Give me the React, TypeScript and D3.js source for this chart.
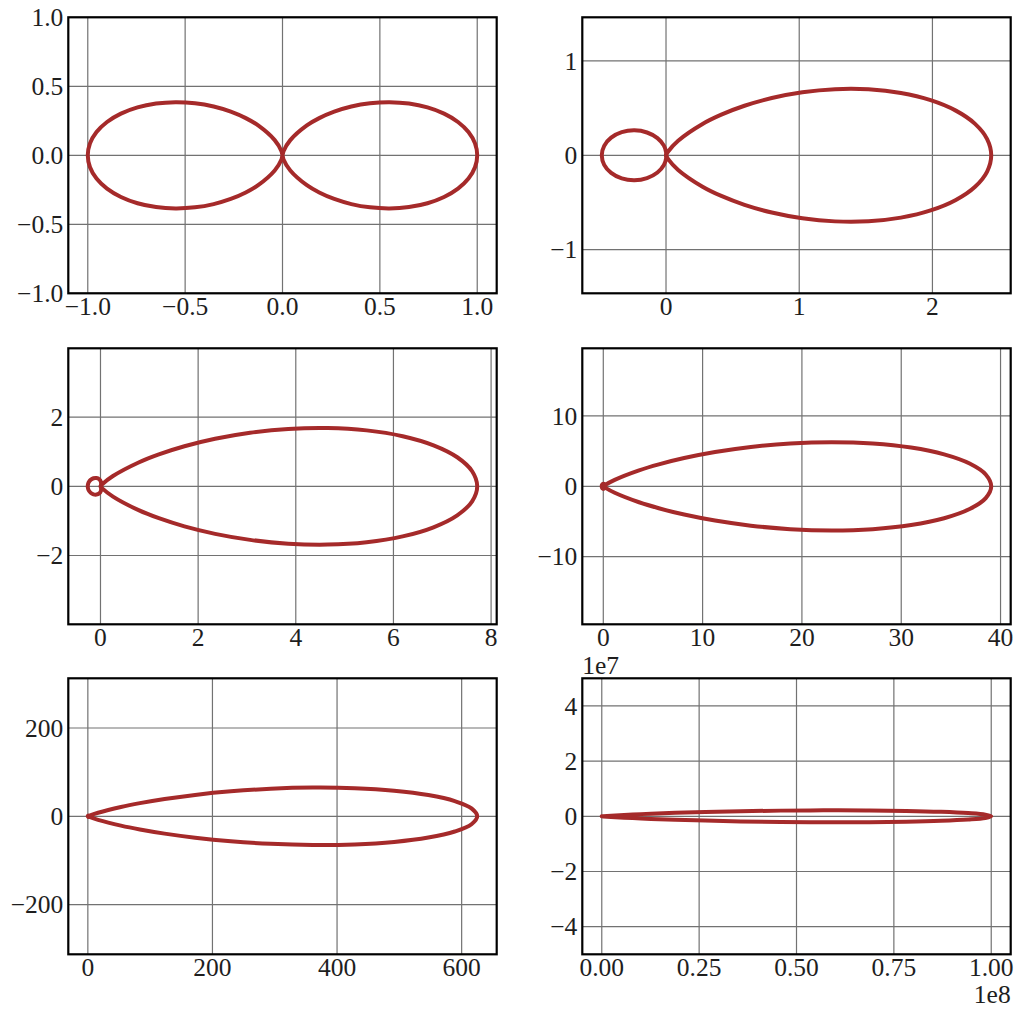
import React from "react";
import * as d3 from "d3";

type Pt = [number, number];

// Upper halves (y >= 0) of each closed curve.
const curveA: Pt[] = [
  [1, 0], [0.98863, 0.08649], [0.95512, 0.16841], [0.90122, 0.24148], [0.82977, 0.30201],
  [0.74444, 0.34714], [0.64952, 0.375], [0.54966, 0.38488], [0.44953, 0.3772], [0.35355, 0.35355],
  [0.26559, 0.31651], [0.1887, 0.26949], [0.125, 0.21651], [0.04001, 0.10993], [0.00524, 0.0297],
  [0, 0],
  [-0.00524, 0.0297], [-0.04001, 0.10993], [-0.125, 0.21651], [-0.1887, 0.26949], [-0.26559, 0.31651],
  [-0.35355, 0.35355], [-0.44953, 0.3772], [-0.54966, 0.38488], [-0.64952, 0.375], [-0.74444, 0.34714],
  [-0.82977, 0.30201], [-0.90122, 0.24148], [-0.95512, 0.16841], [-0.98863, 0.08649], [-1, 0],
];
const curveB: Pt[] = [
  [2.44139, 0], [2.41058, 0.17209], [2.3201, 0.33317], [2.17569, 0.47322], [1.98631, 0.58405],
  [1.76352, 0.66008], [1.52008, 0.69857], [1.26926, 0.69991], [1.02361, 0.66734], [0.79411, 0.60652],
  [0.58931, 0.52482], [0.41504, 0.43062], [0.27424, 0.33243], [0.09104, 0.15465], [0.0147, 0.03795],
  [0, 0],
  [0.00084, 0.03081], [-0.01581, 0.10253], [-0.06437, 0.18208], [-0.14255, 0.24164],
  [-0.23746, 0.26422], [-0.3324, 0.2445], [-0.41182, 0.18657], [-0.46408, 0.10061], [-0.48225, 0],
];
const curveC: Pt[] = [
  [7.71607, 0], [7.61176, 0.43549], [7.3063, 0.83969], [6.82081, 1.18453], [6.18866, 1.44805],
  [5.45146, 1.61641], [4.655, 1.68494], [3.84534, 1.65807], [3.06441, 1.54826], [2.34726, 1.37403],
  [1.71928, 1.15755], [1.1955, 0.9219], [0.78093, 0.68871], [0.25614, 0.29729], [0.0425, 0.06687],
  [0, 0],
  [0.01105, 0.04405], [0.00876, 0.13015], [-0.02571, 0.20406], [-0.08261, 0.23888],
  [-0.14395, 0.23168], [-0.19601, 0.19274], [-0.23271, 0.13516], [-0.25362, 0.06902], [-0.26031, 0],
];
const curveD: Pt[] = [
  [39.0625, 0], [38.5083, 1.68212], [36.887, 3.2334], [34.32, 4.53794], [30.9913, 5.50741],
  [27.1336, 6.09019], [22.9979, 6.27487], [18.8321, 6.08904], [14.8584, 5.59329], [11.2547, 4.87077],
  [8.1433, 4.01554], [5.5888, 3.12074], [3.60117, 2.26816], [1.14985, 0.91761], [0.1872, 0.19063],
  [0, 0],
  [0.05509, 0.1018], [0.09031, 0.26316], [0.05111, 0.35411], [-0.02443, 0.34991],
  [-0.09164, 0.28381], [-0.13183, 0.19823], [-0.14837, 0.11951], [-0.15232, 0.05499], [-0.15259, 0],
];
const curveE: Pt[] = [
  [625, 0], [615.807, 17.9283], [588.95, 34.381], [546.494, 48.0575], [491.65, 57.994],
  [428.353, 63.6568], [360.886, 64.984], [293.397, 62.3606], [229.54, 56.53], [172.194, 48.4742],
  [123.23, 39.256], [83.5349, 29.8903], [53.095, 21.223], [16.432, 8.1124], [2.5824, 1.5672],
  [0, 0],
  [0.718, 0.6773], [1.2225, 1.505], [0.9645, 1.6706], [0.4433, 1.2961], [0.0689, 0.782],
  [-0.0855, 0.3883], [-0.1124, 0.1651], [-0.1019, 0.0575], [-0.0953, 0],
];
const curveF: Pt[] = [
  [1e8, 0], [9.84892e7, 6.09664e5], [9.40794e7, 1.16701e6], [8.71189e7, 1.62623e6],
  [7.81476e7, 1.95395e6], [6.78295e7, 2.13247e6], [5.68761e7, 2.16145e6], [4.59747e7, 2.05617e6],
  [3.57244e7, 1.84471e6], [2.65853e7, 1.56258e6], [1.88493e7, 1.24752e6], [1.26414e7, 9.34266e5],
  [7.93665e6, 6.50748e5], [2.38322e6, 2.37175e5], [3.60117e5, 4.29941e4],
  [0, 0],
  [8.9132e4, 1.5169e4], [1.39851e5, 2.861e4], [1.00603e5, 2.5083e4], [4.3986e4, 1.3691e4],
  [1.1822e4, 4786], [1721, 980], [96, 92], [0.5, 2.4], [-0.06, 0],
];

// Tick values and labels
const xTicksA = [-1, -0.5, 0, 0.5, 1];
const xLabelsA = ["\u22121.0", "\u22120.5", "0.0", "0.5", "1.0"];
const yTicksA = [-1, -0.5, 0, 0.5, 1];
const yLabelsA = ["\u22121.0", "\u22120.5", "0.0", "0.5", "1.0"];

const xTicksB = [0, 1, 2];
const xLabelsB = ["0", "1", "2"];
const yTicksB = [-1, 0, 1];
const yLabelsB = ["\u22121", "0", "1"];

const xTicksC = [0, 2, 4, 6, 8];
const xLabelsC = ["0", "2", "4", "6", "8"];
const yTicksC = [-2, 0, 2];
const yLabelsC = ["\u22122", "0", "2"];

const xTicksD = [0, 10, 20, 30, 40];
const xLabelsD = ["0", "10", "20", "30", "40"];
const yTicksD = [-10, 0, 10];
const yLabelsD = ["\u221210", "0", "10"];

const xTicksE = [0, 200, 400, 600];
const xLabelsE = ["0", "200", "400", "600"];
const yTicksE = [-200, 0, 200];
const yLabelsE = ["\u2212200", "0", "200"];

const xTicksF = [0, 0.25e8, 0.5e8, 0.75e8, 1e8];
const xLabelsF = ["0.00", "0.25", "0.50", "0.75", "1.00"];
const yTicksF = [-4e7, -2e7, 0, 2e7, 4e7];
const yLabelsF = ["\u22124", "\u22122", "0", "2", "4"];
const xOffsetF = "1e8";
const yOffsetF = "1e7";

// Layout
const COLS = [68.3, 582.3];
const ROWS = [17.3, 348.3, 678.3];
const AXW = 428.4;
const AXH = 276;
const FONT = 25.5;
const CURVE_COLOR = "#a52a2a";
const GRID_COLOR = "#727272";
const TEXT_COLOR = "#1e1e1e";

type PanelDef = {
  pts: Pt[];
  xt: number[]; xl: string[]; yt: number[]; yl: string[];
  xOff?: string; yOff?: string;
};

const panels: PanelDef[] = [
  { pts: curveA, xt: xTicksA, xl: xLabelsA, yt: yTicksA, yl: yLabelsA },
  { pts: curveB, xt: xTicksB, xl: xLabelsB, yt: yTicksB, yl: yLabelsB },
  { pts: curveC, xt: xTicksC, xl: xLabelsC, yt: yTicksC, yl: yLabelsC },
  { pts: curveD, xt: xTicksD, xl: xLabelsD, yt: yTicksD, yl: yLabelsD },
  { pts: curveE, xt: xTicksE, xl: xLabelsE, yt: yTicksE, yl: yLabelsE },
  { pts: curveF, xt: xTicksF, xl: xLabelsF, yt: yTicksF, yl: yLabelsF, xOff: xOffsetF, yOff: yOffsetF },
];

function Panel({ def, left, top }: { def: PanelDef; left: number; top: number }) {
  const full: Pt[] = def.pts.concat(
    def.pts.slice(1, def.pts.length - 1).reverse().map(([x, y]) => [x, -y] as Pt)
  );
  const [xmin, xmax] = d3.extent(full, (d) => d[0]) as [number, number];
  const R = xmax - xmin;
  const x = d3.scaleLinear().domain([xmin - 0.05 * R, xmax + 0.05 * R]).range([left, left + AXW]);
  const y = d3.scaleLinear().domain([-R / 2, R / 2]).range([top + AXH, top]);
  const line = d3
    .line<Pt>()
    .x((d) => x(d[0]))
    .y((d) => y(d[1]))
    .curve(d3.curveCatmullRomClosed.alpha(0.5));
  const bottom = top + AXH;
  const right = left + AXW;
  return (
    <g>
      <rect x={left} y={top} width={AXW} height={AXH} fill="#fff" />
      {def.xt.map((t, i) => (
        <line key={"gx" + i} x1={x(t)} x2={x(t)} y1={top} y2={bottom} stroke={GRID_COLOR} strokeWidth={1.2} />
      ))}
      {def.yt.map((t, i) => (
        <line key={"gy" + i} x1={left} x2={right} y1={y(t)} y2={y(t)} stroke={GRID_COLOR} strokeWidth={1.2} />
      ))}
      <path d={line(full) || ""} fill="none" stroke={CURVE_COLOR} strokeWidth={4} strokeLinejoin="round" />
      <rect x={left} y={top} width={AXW} height={AXH} fill="none" stroke="#000" strokeWidth={2.2} />
      {def.xt.map((t, i) => (
        <text key={"lx" + i} x={x(t)} y={bottom + 22} textAnchor="middle" fontSize={FONT} fill={TEXT_COLOR}>
          {def.xl[i]}
        </text>
      ))}
      {def.yt.map((t, i) => (
        <text key={"ly" + i} x={left - 5} y={y(t) + 8.7} textAnchor="end" fontSize={FONT} fill={TEXT_COLOR}>
          {def.yl[i]}
        </text>
      ))}
      {def.xOff && (
        <text x={right} y={bottom + 49} textAnchor="end" fontSize={FONT} fill={TEXT_COLOR}>
          {def.xOff}
        </text>
      )}
      {def.yOff && (
        <text x={left} y={top - 4} textAnchor="start" fontSize={FONT} fill={TEXT_COLOR}>
          {def.yOff}
        </text>
      )}
    </g>
  );
}

export default function App() {
  return (
    <div style={{ position: "absolute", left: 0, top: 0 }}>
      <svg
        width={1024}
        height={1017}
        style={{ display: "block", background: "#fff" }}
        fontFamily="'Liberation Serif', 'Times New Roman', serif"
      >
        {panels.map((p, i) => (
          <Panel key={i} def={p} left={COLS[i % 2]} top={ROWS[Math.floor(i / 2)]} />
        ))}
      </svg>
    </div>
  );
}
